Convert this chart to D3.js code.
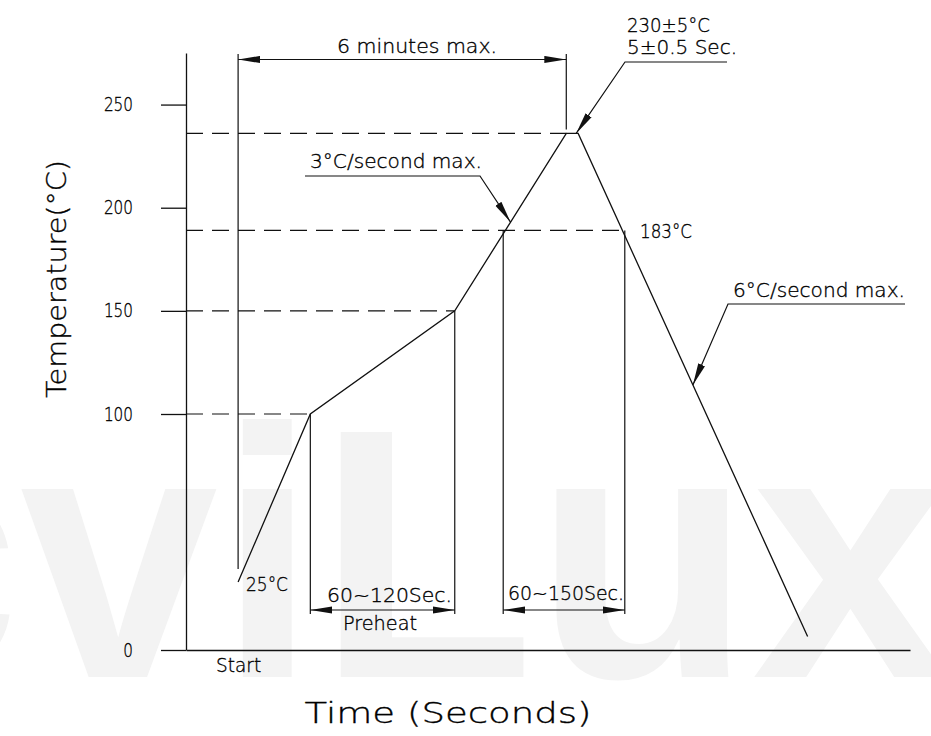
<!DOCTYPE html>
<html>
<head>
<meta charset="utf-8">
<script src="https://cdn.jsdelivr.net/npm/d3@7"></script>
<style>
  body { margin: 0; background: #fff; }
  svg text { font-family: "DejaVu Sans", "Liberation Sans", sans-serif; font-weight: 200; fill: #000; stroke: #000; stroke-width: 0.35px; }
</style>
</head>
<body>
<div id="chart"></div>
<script>
// reflow profile, values (schematic, not to scale)
const tempTicks = [0, 100, 150, 200, 250];
const profileTime = [57, 136, 294, 416, 429, 680];   // seconds
const profileTemp = [25, 100, 150, 236, 236, 5];      // deg C as drawn
const levelTemp = [236, 189, 150, 100];               // dashed guide levels
const levelTime = [416, 480, 294, 136];
const preheatSpan = [136, 294];
const reflowSpan = [347, 480];
const sixMinSpan = [57, 416];
const startTime = 57;

const width = 931, height = 736;

const svg = d3.select("#chart")
    .append("svg")
    .attr("width", width)
    .attr("height", height);

const x = d3.scaleLinear().domain([0, 792]).range([186, 910]);
// broken axis: bottom part is compressed like the original
const y = d3.scaleLinear().domain([0, 25, 100, 275]).range([650, 582, 414, 53]);

const ink = "#111";

// watermark
svg.append("text")
    .attr("x", -178)
    .attr("y", 677)
    .style("font-family", "'Liberation Sans', Arial, sans-serif")
    .style("font-weight", "bold")
    .style("font-size", "356px")
    .style("fill", "#f3f3f3")
    .style("stroke", "none")
    .text("cviLux");

// arrowheads
const defs = svg.append("defs");
defs.append("marker")
    .attr("id", "arr")
    .attr("viewBox", "0 -4 22 8")
    .attr("refX", 22)
    .attr("refY", 0)
    .attr("markerUnits", "userSpaceOnUse")
    .attr("markerWidth", 22)
    .attr("markerHeight", 8)
    .attr("orient", "auto-start-reverse")
    .append("path")
    .attr("d", "M0,-3.6L22,0L0,3.6Z")
    .attr("fill", ink);

// y axis
const yAxis = svg.append("g")
    .attr("transform", `translate(${x(0)},0)`)
    .call(d3.axisLeft(y).tickValues(tempTicks).tickSize(25).tickSizeOuter(0).tickPadding(28));
yAxis.select(".domain").attr("stroke", ink).attr("stroke-width", 1.3);
yAxis.selectAll(".tick line").attr("stroke", ink).attr("stroke-width", 1.3);
yAxis.selectAll(".tick text")
    .style("font-size", "19px")
    .attr("textLength", (d) => String(d).length * 9.7)
    .attr("lengthAdjust", "spacingAndGlyphs");

// x axis
const xAxis = svg.append("g")
    .attr("transform", `translate(0,${y(0)})`)
    .call(d3.axisBottom(x).tickValues([startTime]).tickFormat(() => "Start").tickSize(0).tickSizeOuter(0).tickPadding(9));
xAxis.select(".domain").attr("stroke", ink).attr("stroke-width", 1.3);
xAxis.selectAll(".tick text")
    .style("font-size", "19px")
    .attr("textLength", 45)
    .attr("lengthAdjust", "spacingAndGlyphs");

// axis titles
svg.append("text")
    .attr("transform", "translate(66,279) rotate(-90)")
    .attr("text-anchor", "middle")
    .style("font-size", "27px")
    .attr("textLength", 238)
    .attr("lengthAdjust", "spacingAndGlyphs")
    .text("Temperature(°C)");

svg.append("text")
    .attr("x", 448)
    .attr("y", 723)
    .attr("text-anchor", "middle")
    .style("font-size", "29px")
    .attr("textLength", 287)
    .attr("lengthAdjust", "spacingAndGlyphs")
    .text("Time  (Seconds)");

// dashed guide lines
svg.append("g")
    .selectAll("line")
    .data(levelTemp)
    .join("line")
    .attr("x1", x(0))
    .attr("x2", (d, i) => x(levelTime[i]))
    .attr("y1", (d) => y(d))
    .attr("y2", (d) => y(d))
    .attr("stroke", ink)
    .attr("stroke-width", 1.2)
    .attr("stroke-dasharray", "17,9");

// vertical extension lines
const rowY = 610;
const extensions = [
    { t: startTime, top: 54, bottom: 569 },
    { t: sixMinSpan[1], top: 54, bottom: y(236) - 4 },
    { t: preheatSpan[0], top: y(100), bottom: rowY + 4 },
    { t: preheatSpan[1], top: y(150), bottom: rowY + 4 },
    { t: reflowSpan[0], top: y(189), bottom: rowY + 4 },
    { t: reflowSpan[1], top: y(189), bottom: rowY + 4 },
];
svg.append("g")
    .selectAll("line")
    .data(extensions)
    .join("line")
    .attr("x1", (d) => x(d.t))
    .attr("x2", (d) => x(d.t))
    .attr("y1", (d) => d.top)
    .attr("y2", (d) => d.bottom)
    .attr("stroke", ink)
    .attr("stroke-width", 1.2);

// profile
const pts = profileTime.map((t, i) => [x(t), y(profileTemp[i])]);
svg.append("path")
    .attr("d", d3.line()(pts))
    .attr("fill", "none")
    .attr("stroke", ink)
    .attr("stroke-width", 1.3);

// dimension lines
function dim(span, yy, labels) {
    svg.append("line")
        .attr("x1", x(span[0]))
        .attr("x2", x(span[1]))
        .attr("y1", yy)
        .attr("y2", yy)
        .attr("stroke", ink)
        .attr("stroke-width", 1.2)
        .attr("marker-start", "url(#arr)")
        .attr("marker-end", "url(#arr)");
    labels.forEach((l) => {
        svg.append("text")
            .attr("x", l.x)
            .attr("y", l.y)
            .attr("text-anchor", "middle")
            .style("font-size", "19px")
            .attr("textLength", l.w)
            .attr("lengthAdjust", "spacingAndGlyphs")
            .text(l.text);
    });
}
dim(sixMinSpan, 59.5, [{ text: "6  minutes  max.", x: 417, y: 52.5, w: 160 }]);
dim(preheatSpan, rowY, [
    { text: "60~120Sec.", x: 389.5, y: 602, w: 125 },
    { text: "Preheat", x: 380, y: 630, w: 74 },
]);
dim(reflowSpan, rowY, [{ text: "60~150Sec.", x: 566, y: 600, w: 116 }]);

// leaders with arrow
function leader(tip, elbow, shelfEnd) {
    svg.append("path")
        .attr("d", d3.line()([shelfEnd, elbow, tip]))
        .attr("fill", "none")
        .attr("stroke", ink)
        .attr("stroke-width", 1.2)
        .attr("marker-end", "url(#arr)");
}
function label(text, lx, ly, w) {
    svg.append("text")
        .attr("x", lx)
        .attr("y", ly)
        .style("font-size", "19px")
        .attr("textLength", w)
        .attr("lengthAdjust", "spacingAndGlyphs")
        .text(text);
}

const mid = (a, b) => [(a[0] + b[0]) / 2, (a[1] + b[1]) / 2];

leader([x(429) - 2, y(236)], [625, 62], [727, 62]);
label("230±5°C", 627, 32, 83);
label("5±0.5  Sec.", 627, 54, 110);

leader(mid(pts[2], pts[3]), [480, 176], [305, 176]);
label("3°C/second  max.", 310, 168, 172);

leader(mid(pts[4], pts[5]), [728, 304], [905, 304]);
label("6°C/second  max.", 733, 297, 172);

label("183°C", 640, 238, 52);
label("25°C", 246, 591, 42);
</script>
</body>
</html>
